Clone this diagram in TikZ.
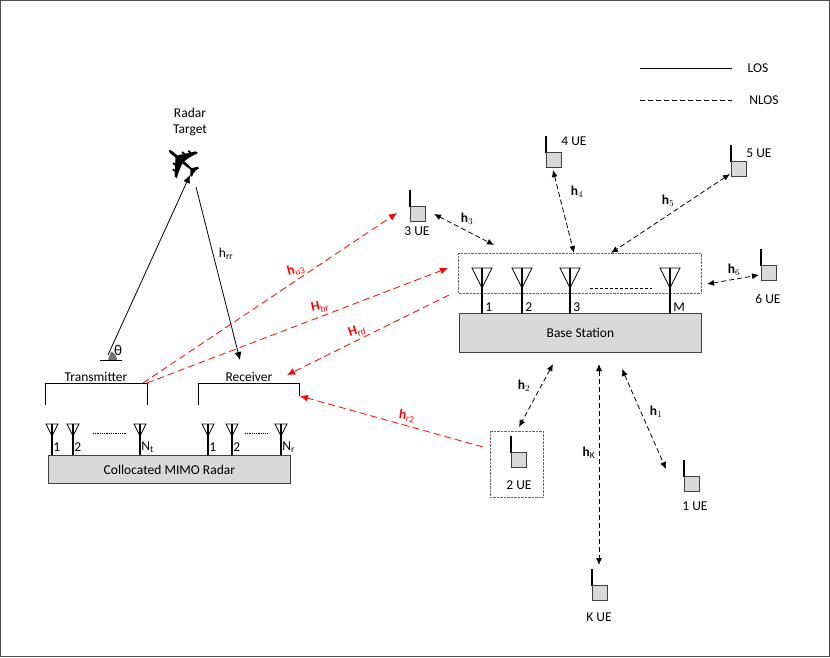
\documentclass[tikz,border=0pt]{standalone}
\usepackage{fontspec}
\setmainfont{Carlito}
\newfontfamily\symfont{DejaVu Sans}
\usetikzlibrary{arrows.meta}

\tikzset{
  lbl/.style={font=\fontsize{13.5}{17}\selectfont, inner sep=1pt},
  chan/.style={font=\bfseries\fontsize{13.5}{17}\selectfont, inner sep=1pt},
  nlos/.style={dash pattern=on 5pt off 3pt, {Latex[length=7pt,width=6pt]}-{Latex[length=7pt,width=6pt]}},
  red nlos/.style={red, dash pattern=on 7pt off 4pt, -{Latex[length=8pt,width=7pt]}},
  gbox/.style={draw=black!75, fill=black!15, thick},
}
% UE handset: stem at x, top at y
\newcommand{\handset}[3]{%
  \draw[line width=1.8pt] (#2,#3) -- ++(0,17);
  \filldraw[fill=black!15, draw=black!75, thick] (#2,#3+16) rectangle ++(15,15);
  \coordinate (#1) at (#2+7.5,#3+23);
}
% antenna: stem x, triangle top y, stem foot y, half width
\newcommand{\ant}[4]{%
  \draw[thick] (#1-#4,#2) -- (#1+#4,#2) -- (#1,#2+2*#4) -- cycle;
  \draw[line width=1.3pt] (#1,#2) -- (#1,#3);
}

\begin{document}
\begin{tikzpicture}[x=1pt,y=-1pt, line width=0.8pt]
  \useasboundingbox (0,0) rectangle (830,657);
  \draw[black!70] (0.5,0.5) rectangle (829.5,656.5);

  % legend
  \draw (640,68) -- (732,68);
  \node[lbl] (los) at (758,68) {LOS};
  \draw[dash pattern=on 5pt off 3pt] (640,100) -- (732,100);
  \node[lbl] (nlos) at (764,100) {NLOS};

  % radar target
  \node[lbl] (tgt1) at (190,113) {Radar};
  \node[lbl] (tgt2) at (190,130) {Target};
  \node[font=\symfont\fontsize{48}{48}\selectfont, rotate=140, inner sep=0pt] (plane) at (183,162) {✈};

  % collocated MIMO radar
  \node[gbox, draw, minimum width=242, minimum height=28, anchor=north west, lbl] (radar) at (48,455) {Collocated MIMO Radar};
  \foreach \x/\t in {52/1, 73/2, 140/N_t, 208/1, 232/2, 281/N_r}{
    \ant{\x}{424}{455}{6}
    \node[lbl, anchor=west] at (\x,447) {$\mathrm{\t}$};
  }
  \draw[densely dotted, thick] (93,433) -- (127,433);
  \draw[densely dotted, thick] (245,433) -- (268,433);

  \draw (45,405) -- (45,383) -- (147,383) -- (147,405);
  \node[lbl] (tx) at (96,377) {Transmitter};
  \draw (198,405) -- (198,383) -- (299,383) -- (299,396);
  \node[lbl] (rx) at (249,377) {Receiver};

  % angle
  \fill[black!55] (108,360) -- (117,360) arc (0:-70:9) -- cycle;
  \draw (100,360) -- (122,360);
  \node[font=\fontsize{15}{17}\selectfont] (theta) at (118,350) {θ};

  \coordinate (txtop) at (108,355);
  \coordinate (planein) at (190,175);
  \coordinate (planeout) at (196,187);
  \coordinate (rxin) at (240,360);
  \draw[-{Latex[length=8pt,width=7pt]}] (txtop) -- (planein);
  \draw[-{Latex[length=8pt,width=7pt]}] (planeout) -- (rxin);
  \node[lbl] at (226,254) {h$_{\mathrm{rr}}$};

  % base station
  \draw[densely dotted, black!60, thin] (458,253) rectangle (701,293);
  \node[gbox, draw, minimum width=242, minimum height=39, anchor=north west, lbl] (bs) at (459,313) {Base Station};
  \foreach \x/\t in {482/1, 522/2, 570/3, 670/M}{
    \ant{\x}{268}{313}{10}
    \node[lbl, anchor=west] at (\x+2,307) {\t};
  }
  \draw[thick, dash pattern=on 3pt off 2pt] (590,288) -- (652,288);

  % users
  \handset{ue3}{410}{190}
  \node[lbl] at (417,231) {3 UE};
  \handset{ue4}{546}{136}
  \node[lbl] at (574,141) {4 UE};
  \handset{ue5}{731}{145}
  \node[lbl] at (759,153) {5 UE};
  \handset{ue6}{761}{249}
  \node[lbl] at (768,299) {6 UE};
  \handset{ue2}{511}{436}
  \node[lbl] at (519,485) {2 UE};
  \draw[densely dotted, black!60, thin] (490,431) rectangle (543,497);
  \handset{ue1}{684}{460}
  \node[lbl] at (695,506) {1 UE};
  \handset{ueK}{592}{569}
  \node[lbl] at (599,617) {K UE};

  % NLOS channels to the base station
  \draw[nlos] (434,214) -- (494,245);
  \node[chan] at (467,219) {h$_3$};
  \draw[nlos] (553,170) -- (574,253);
  \node[chan] at (577,192) {h$_4$};
  \draw[nlos] (730,174) -- (611,253);
  \node[chan] at (668,201) {h$_5$};
  \draw[nlos] (707,284) -- (759,275);
  \node[chan] at (734,270) {h$_6$};
  \draw[nlos] (553,364) -- (519,427);
  \node[chan] at (524,386) {h$_2$};
  \draw[nlos] (599,364) -- (599,565);
  \node[chan] at (589,453) {h$_{\mathrm{K}}$};
  \draw[nlos] (622,369) -- (666,469);
  \node[chan] at (656,412) {h$_1$};

  % interference channels
  \draw[red nlos] (143,383) -- (397,213);
  \node[chan, red, rotate=15] at (296,270) {h$_{\mathrm{u3}}$};
  \draw[red nlos] (147,383) -- (448,268);
  \node[chan, red, rotate=12] at (320,307) {H$_{\mathrm{br}}$};
  \draw[red nlos] (449,295) -- (287,375);
  \node[chan, red, rotate=18] at (357,331) {H$_{\mathrm{rd}}$};
  \draw[red nlos] (483,447) -- (300,396);
  \node[chan, red, rotate=-8] at (407,416) {h$_{\mathrm{r2}}$};
\end{tikzpicture}
\end{document}
